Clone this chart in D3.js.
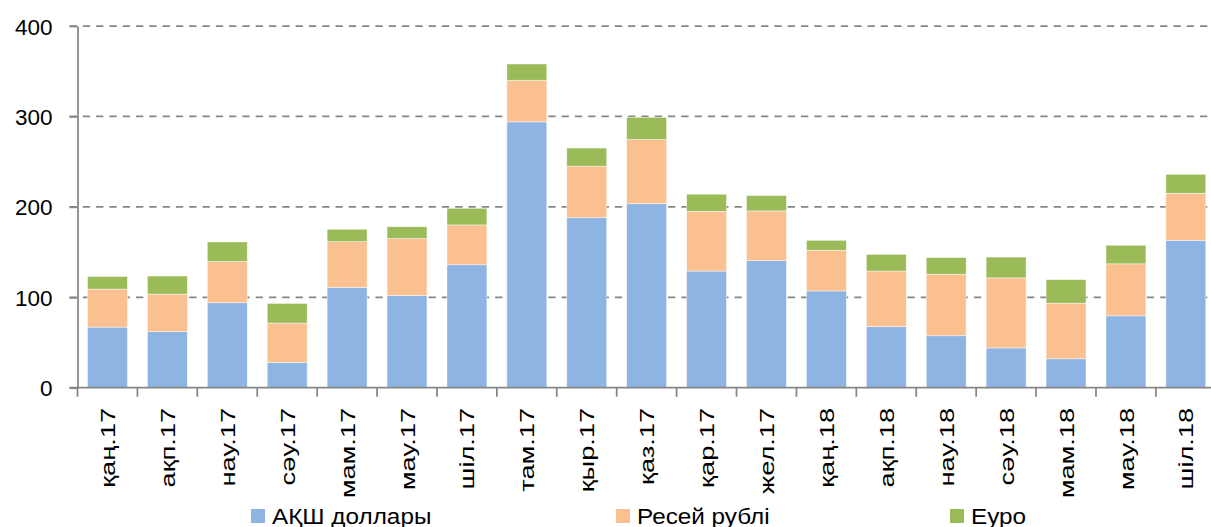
<!DOCTYPE html>
<html>
<head>
<meta charset="utf-8">
<script src="https://cdn.jsdelivr.net/npm/d3@7"></script>
<style>
    body { margin: 0; background: #fff; }
    svg { display: block; font-family: "Liberation Sans", Arial, sans-serif; }
</style>
</head>
<body>
<div id="chart"></div>
<script>
// months (Kazakh short names)
const months = ["қаң.17", "ақп.17", "нау.17", "сәу.17", "мам.17", "мау.17", "шіл.17", "там.17", "қыр.17",
    "қаз.17", "қар.17", "жел.17", "қаң.18", "ақп.18", "нау.18", "сәу.18", "мам.18", "мау.18", "шіл.18"];

const usd = [67, 62, 94, 28, 111, 102, 136, 294, 188, 203.5, 129, 140.5, 107, 67.5, 57.5, 44, 32, 79.5, 163];
const rub = [42, 41.5, 45.5, 43.5, 50.5, 63, 44, 46, 57, 71, 66, 55, 45, 61.5, 68, 77.5, 61.5, 57.5, 52];
const eur = [14, 20, 21.7, 21.7, 13.7, 13, 18.4, 18, 20, 24.5, 19, 17, 11, 18.5, 18.5, 23, 26, 20.5, 21];

const seriesNames = ["АҚШ доллары", "Ресей рублі", "Еуро"];
const seriesColors = ["#8eb4e3", "#fac090", "#9bbb59"];
const yTicks = [0, 100, 200, 300, 400];

const width = 1211, height = 527;
const plotLeft = 77.5, plotRight = 1215.8, plotTop = 26, plotBottom = 387.7;

const svg = d3.select("#chart").append("svg")
    .attr("width", width)
    .attr("height", height);

const x = d3.scaleBand()
    .domain(months)
    .range([plotLeft, plotRight])
    .paddingInner(1 / 3)
    .paddingOuter(1 / 6);

const y = d3.scaleLinear()
    .domain([0, 400])
    .range([plotBottom, plotTop]);

// table for stacking
const table = months.map((m, i) => ({ month: m, usd: usd[i], rub: rub[i], eur: eur[i] }));
const stack = d3.stack().keys(["usd", "rub", "eur"]);
const layers = stack(table);

// gridlines
svg.append("g")
    .selectAll("line")
    .data(yTicks.filter(t => t > 0))
    .enter()
    .append("line")
    .attr("x1", plotLeft - 8)
    .attr("x2", width)
    .attr("y1", d => y(d))
    .attr("y2", d => y(d))
    .attr("stroke", "#868686")
    .attr("stroke-width", 1.75)
    .attr("stroke-dasharray", "7.3,6");

// bars
svg.append("g")
    .selectAll("g")
    .data(layers)
    .enter()
    .append("g")
    .attr("fill", (d, i) => seriesColors[i])
    .selectAll("rect")
    .data(d => d)
    .enter()
    .append("rect")
    .attr("x", d => x(d.data.month))
    .attr("width", x.bandwidth())
    .attr("y", d => y(d[1]))
    .attr("height", d => y(d[0]) - y(d[1]))
    .attr("stroke", "#ffffff")
    .attr("stroke-opacity", 0.6)
    .attr("stroke-width", 0.75);

// y axis
const yAxis = svg.append("g")
    .attr("transform", `translate(${plotLeft},0)`)
    .call(d3.axisLeft(y).tickValues(yTicks).tickSize(8).tickPadding(17).tickSizeOuter(0));
yAxis.select(".domain").attr("stroke", "#868686").attr("stroke-width", 1.75);
yAxis.selectAll(".tick line").attr("stroke", "#868686").attr("stroke-width", 1.75);
yAxis.selectAll(".tick text")
    .attr("font-size", 22.5)
    .attr("fill", "#000")
    .attr("font-family", "Liberation Sans, Arial, sans-serif")
    .attr("dy", "0.36em");

// x axis line + ticks between categories
const xAxisG = svg.append("g");
xAxisG.append("line")
    .attr("x1", plotLeft - 8)
    .attr("x2", width)
    .attr("y1", plotBottom)
    .attr("y2", plotBottom)
    .attr("stroke", "#868686")
    .attr("stroke-width", 1.75);

const step = x.step();
xAxisG.selectAll(".xtick")
    .data(months)
    .enter()
    .append("line")
    .attr("class", "xtick")
    .attr("x1", d => x(d) - x.paddingInner() * step / 2)
    .attr("x2", d => x(d) - x.paddingInner() * step / 2)
    .attr("y1", plotBottom)
    .attr("y2", plotBottom + 9)
    .attr("stroke", "#868686")
    .attr("stroke-width", 1.75);

// labels are a bit elongated in the original
xAxisG.selectAll(".xlabel")
    .data(months)
    .enter()
    .append("text")
    .attr("class", "xlabel")
    .attr("transform", d => `translate(${x(d) + x.bandwidth() / 2},${plotBottom + 20}) rotate(-90) scale(1.3,1)`)
    .attr("text-anchor", "end")
    .attr("dy", "0.36em")
    .attr("font-size", 21)
    .attr("fill", "#000")
    .text(d => d);

// legend
const legendX = [251, 616, 950];
const legend = svg.append("g")
    .selectAll("g")
    .data(seriesNames)
    .enter()
    .append("g")
    .attr("transform", (d, i) => `translate(${legendX[i]},509)`);

legend.append("rect")
    .attr("width", 14)
    .attr("height", 14)
    .attr("fill", (d, i) => seriesColors[i]);

legend.append("text")
    .attr("transform", "translate(21,7) scale(1.13,1)")
    .attr("dy", "0.36em")
    .attr("font-size", 21.5)
    .attr("fill", "#000")
    .text(d => d);
</script>
</body>
</html>
